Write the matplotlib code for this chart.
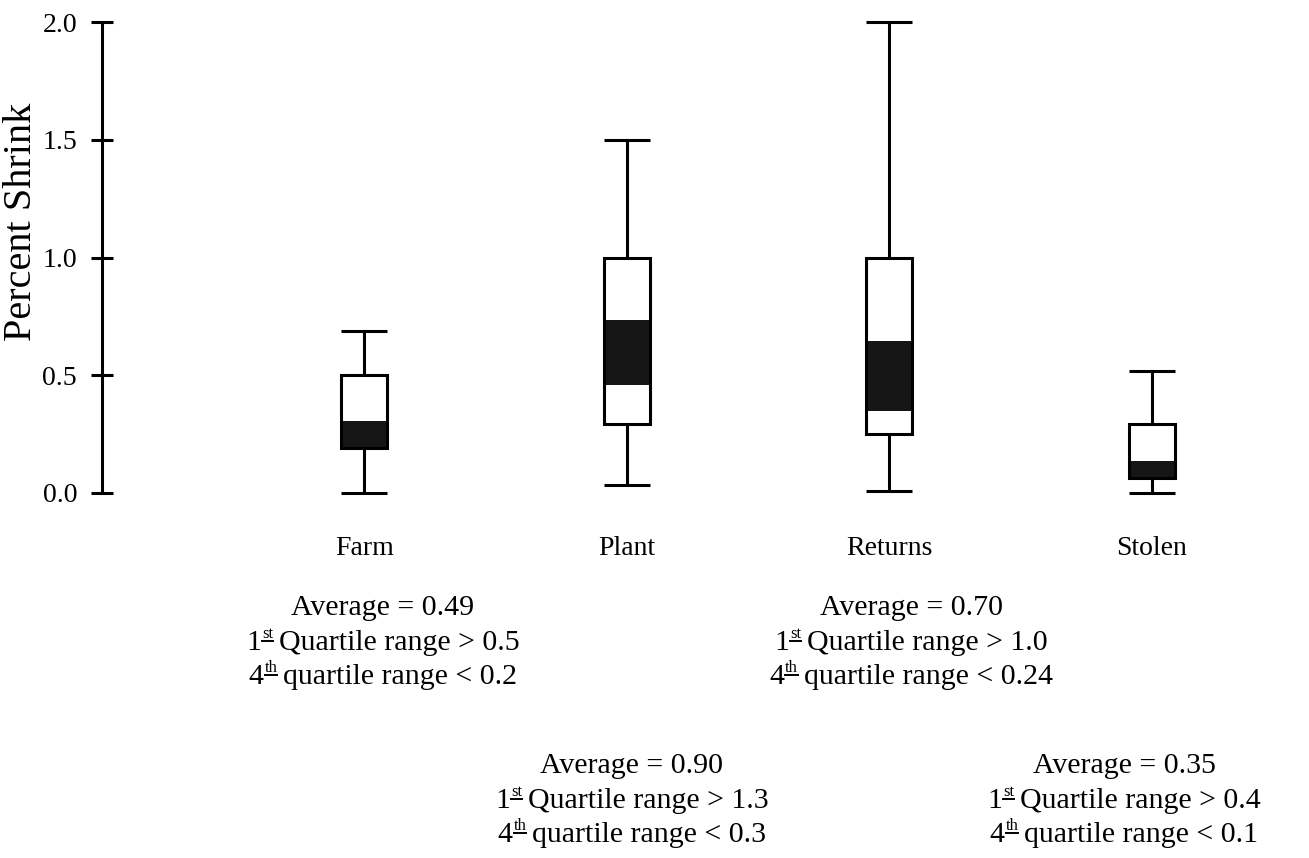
import matplotlib
matplotlib.use("Agg")
import matplotlib.pyplot as plt
from matplotlib.transforms import IdentityTransform
from matplotlib.lines import Line2D
import numpy as np

# ---- data ----
categories = ["Farm", "Plant", "Returns", "Stolen"]
whisker_low = [0.0, 0.035, 0.01, 0.0]
box_low = [0.19, 0.295, 0.25, 0.065]
band_low = [0.19, 0.46, 0.35, 0.065]
band_high = [0.305, 0.735, 0.645, 0.135]
box_high = [0.5, 1.0, 1.0, 0.295]
whisker_high = [0.69, 1.5, 2.0, 0.52]

y_ticks = [0.0, 0.5, 1.0, 1.5, 2.0]
y_tick_labels = ["0.0", "0.5", "1.0", "1.5", "2.0"]

# summary notes: (category, average, 1st quartile, 4th quartile)
note_cats = ["Farm", "Returns", "Plant", "Stolen"]
note_avg = ["0.49", "0.70", "0.90", "0.35"]
note_q1 = ["0.5", "1.0", "1.3", "0.4"]
note_q4 = ["0.2", "0.24", "0.3", "0.1"]

W, H = 1309, 858
SERIF = ["Liberation Serif", "DejaVu Serif"]

fig = plt.figure(figsize=(W / 100, H / 100), dpi=100)
ax = fig.add_axes([102 / W, (H - 493) / H, (W - 102) / W, 471 / H])

x = np.arange(1, len(categories) + 1)
bw = 0.175
lw = 2.2

ax.bar(x, np.array(box_high) - np.array(box_low), bottom=box_low, width=bw,
       facecolor="white", edgecolor="none", zorder=2, clip_on=False)
ax.bar(x, np.array(band_high) - np.array(band_low), bottom=band_low, width=bw,
       facecolor="#161616", edgecolor="none", zorder=3, clip_on=False)
ax.bar(x, np.array(box_high) - np.array(box_low), bottom=box_low, width=bw,
       facecolor="none", edgecolor="black", linewidth=lw, zorder=4, clip_on=False)
ax.vlines(x, box_high, whisker_high, color="black", linewidth=lw, zorder=1, clip_on=False)
ax.vlines(x, whisker_low, box_low, color="black", linewidth=lw, zorder=1, clip_on=False)
ax.hlines(whisker_high, x - bw / 2, x + bw / 2, color="black", linewidth=lw, zorder=1,
          clip_on=False)
ax.hlines(whisker_low, x - bw / 2, x + bw / 2, color="black", linewidth=lw, zorder=5,
          clip_on=False)

ax.set_xlim(0, 4.6)
ax.set_ylim(0, 2.0)
for s in ["top", "right", "bottom"]:
    ax.spines[s].set_visible(False)
ax.spines["left"].set_linewidth(2.2)
ax.set_yticks(y_ticks)
ax.set_yticklabels(y_tick_labels, fontfamily=SERIF, fontsize=20)
ax.tick_params(axis="y", direction="inout", length=16, width=2.2, pad=10)
ax.set_xticks(x)
ax.set_xticklabels(categories, fontfamily=SERIF, fontsize=20)
ax.tick_params(axis="x", length=0, pad=31)

fig.text(22 / W, 1 - 222 / H, "Percent Shrink", rotation=90, ha="center", va="center",
         fontfamily=SERIF, fontsize=29)

# ---- notes under the chart ----
renderer = fig.canvas.get_renderer()
FS = 21.5
SUPFS = 12


def line_plain(xc, yb, s):
    fig.text(xc, H - yb, s, transform=IdentityTransform(), ha="center", va="baseline",
             fontfamily=SERIF, fontsize=FS)


def line_sup(xc, yb, pre, sup, rest):
    gap = 6
    t1 = fig.text(0, H - yb, pre, transform=IdentityTransform(), ha="left", va="baseline",
                  fontfamily=SERIF, fontsize=FS)
    t2 = fig.text(0, H - yb + 12, sup, transform=IdentityTransform(), ha="left",
                  va="baseline", fontfamily=SERIF, fontsize=SUPFS)
    t3 = fig.text(0, H - yb, rest, transform=IdentityTransform(), ha="left", va="baseline",
                  fontfamily=SERIF, fontsize=FS)
    w1 = t1.get_window_extent(renderer).width
    w2 = t2.get_window_extent(renderer).width
    w3 = t3.get_window_extent(renderer).width
    total = w1 + 1 + w2 + gap + w3
    x0 = xc - total / 2
    t1.set_x(x0)
    t2.set_x(x0 + w1 + 1)
    t3.set_x(x0 + w1 + 1 + w2 + gap)
    fig.add_artist(Line2D([x0 + w1 + 1, x0 + w1 + 1 + w2], [H - yb + 9, H - yb + 9],
                          transform=IdentityTransform(), color="black", linewidth=1.4))


note_x = {"Farm": 383, "Returns": 911, "Plant": 632, "Stolen": 1124}
note_y = {"Farm": 615, "Returns": 615, "Plant": 773, "Stolen": 773}
for c, a, q1, q4 in zip(note_cats, note_avg, note_q1, note_q4):
    xc, yb = note_x[c], note_y[c]
    line_plain(xc, yb, "Average = " + a)
    line_sup(xc, yb + 34.5, "1", "st", "Quartile range > " + q1)
    line_sup(xc, yb + 69, "4", "th", "quartile range < " + q4)

fig.savefig("out.png", dpi=100, facecolor="white")
